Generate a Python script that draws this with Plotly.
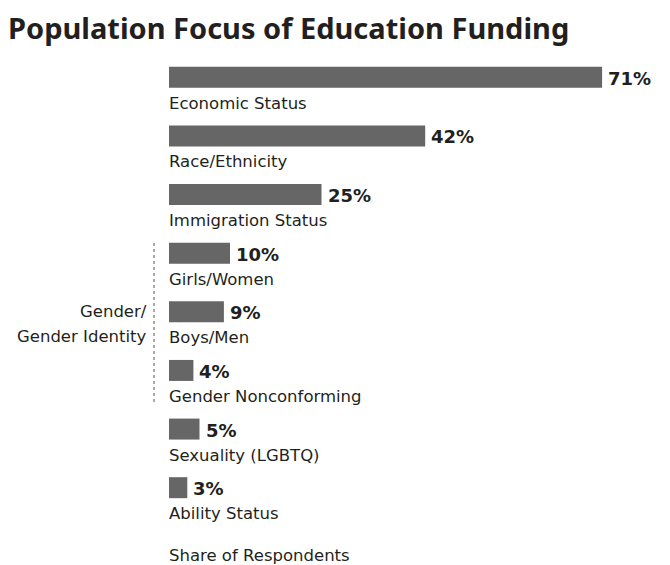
import plotly.graph_objects as go

categories = ["Economic Status", "Race/Ethnicity", "Immigration Status", "Girls/Women",
              "Boys/Men", "Gender Nonconforming", "Sexuality (LGBTQ)", "Ability Status"]
values = [71, 42, 25, 10, 9, 4, 5, 3]
value_labels = ["71%", "42%", "25%", "10%", "9%", "4%", "5%", "3%"]

TEXT = "#231f20"
BAR = "#666666"
FONT = "DejaVu Sans"
TITLE_FONT = "Noto Sans"

# the page body adds an 8px offset, so the figure is laid out in page px minus 8
OFF = 8
W, H = 670 - OFF, 565 - OFF
ML, MR, MT, MB = 161, 13, 40, 48
PW = W - ML - MR
PH = H - MT - MB


def px_x(p):
    return (p - OFF - ML) / PW


def px_y(p):
    return (H - MB - (p - OFF)) / PH


fig = go.Figure()
fig.add_trace(go.Bar(
    x=values, y=categories, orientation="h",
    marker=dict(color=BAR, line=dict(width=0)),
    width=0.358, hoverinfo="skip",
))

ann = []
for c, v, t in zip(categories, values, value_labels):
    ann.append(dict(x=v, y=c, xref="x", yref="y", text=t, showarrow=False,
                    xanchor="left", yanchor="middle", xshift=4, yshift=-1,
                    font=dict(family=FONT, size=18, color=TEXT, weight="bold")))
    ann.append(dict(x=0, y=c, xref="x", yref="y", text=c, showarrow=False,
                    xanchor="left", yanchor="middle", xshift=-2, yshift=-26,
                    font=dict(family=FONT, size=16.5, color=TEXT)))

gx = px_x(149)
ann.append(dict(x=gx, y="Boys/Men", xref="paper", yref="y", text="Gender/", showarrow=False,
                xanchor="right", yanchor="middle", yshift=0,
                font=dict(family=FONT, size=16.5, color=TEXT)))
ann.append(dict(x=gx, y="Boys/Men", xref="paper", yref="y", text="Gender Identity", showarrow=False,
                xanchor="right", yanchor="middle", yshift=-25,
                font=dict(family=FONT, size=16.5, color=TEXT)))
ann.append(dict(x=0, y=px_y(555), xref="x", yref="paper", text="Share of Respondents",
                showarrow=False, xanchor="left", yanchor="middle", xshift=-2,
                font=dict(family=FONT, size=16.5, color=TEXT)))

lx = px_x(154)
fig.add_shape(type="line", xref="paper", yref="paper",
              x0=lx, x1=lx, y0=px_y(243), y1=px_y(402),
              line=dict(color="#555555", width=1, dash="3px,3px"))

fig.update_layout(
    width=W, height=H,
    margin=dict(l=ML, r=MR, t=MT, b=MB),
    paper_bgcolor="white", plot_bgcolor="white",
    showlegend=False,
    title=dict(text="Population Focus of Education Funding", xref="container", yref="container",
               x=0, xanchor="left", y=1 - (29 - OFF) / H, yanchor="middle",
               font=dict(family=TITLE_FONT, size=29, color=TEXT, weight="bold")),
    xaxis=dict(range=[0, 80], autorange=False, visible=False),
    yaxis=dict(categoryorder="array", categoryarray=categories, autorange=False,
               range=[7.5, -0.5], visible=False),
    annotations=ann,
)
fig.write_html("out.html")
